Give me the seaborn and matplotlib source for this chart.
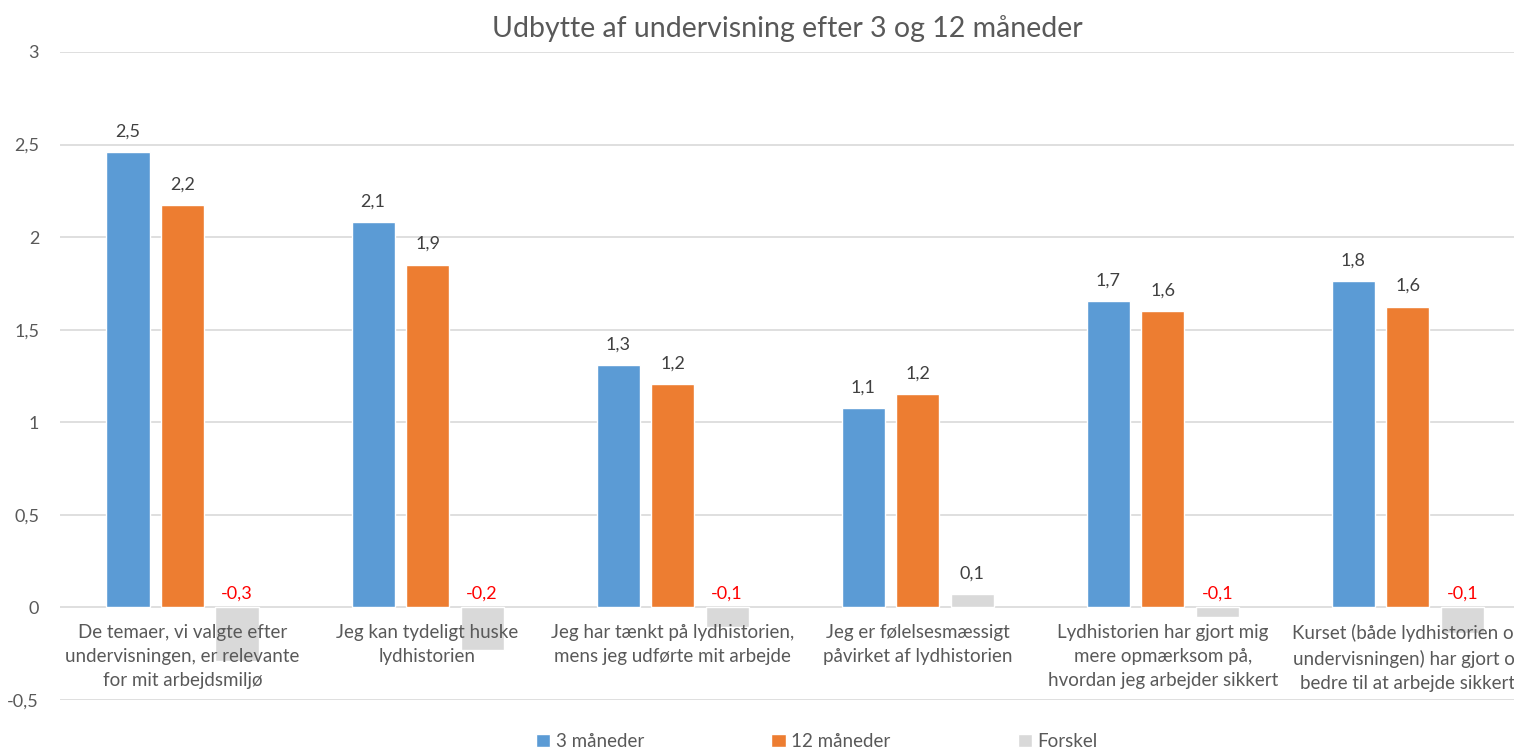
import matplotlib
matplotlib.use("Agg")
import matplotlib.pyplot as plt
import seaborn as sns
import pandas as pd

categories = [
    "De temaer, vi valgte efter\nundervisningen, er relevante\nfor mit arbejdsmiljø",
    "Jeg kan tydeligt huske\nlydhistorien",
    "Jeg har tænkt på lydhistorien,\nmens jeg udførte mit arbejde",
    "Jeg er følelsesmæssigt\npåvirket af lydhistorien",
    "Lydhistorien har gjort mig\nmere opmærksom på,\nhvordan jeg arbejder sikkert",
    "Kurset (både lydhistorien og\nundervisningen) har gjort os\nbedre til at arbejde sikkert",
]
series_names = ["3 måneder", "12 måneder", "Forskel"]
m3 = [2.46, 2.08, 1.31, 1.075, 1.654, 1.765]
m12 = [2.175, 1.852, 1.205, 1.152, 1.60, 1.625]
forskel = [-0.29, -0.232, -0.105, 0.072, -0.054, -0.14]
yticks = [-0.5, 0, 0.5, 1, 1.5, 2, 2.5, 3]
colors = ["#5B9BD5", "#ED7D31", "#D9D9D9"]

sns.set_theme(style="white")
plt.rcParams["font.family"] = ["Lato", "DejaVu Sans"]

rows = []
for vals, name in zip([m3, m12, forskel], series_names):
    for c, v in zip(categories, vals):
        rows.append({"kategori": c, "serie": name, "værdi": v})
df = pd.DataFrame(rows)

fig = plt.figure(figsize=(15.14, 7.52), dpi=100)
ax = fig.add_axes([0.0396, 0.0691, 0.9604, 0.8618])

sns.barplot(data=df, x="kategori", y="værdi", hue="serie", order=categories,
            hue_order=series_names, palette=colors, width=0.667, gap=0.21,
            saturation=1, ax=ax, legend=True, zorder=2)

ax.set_ylim(-0.5, 3)
ax.set_xlim(-0.5, 5.433)
ax.set_yticks(yticks)
ax.set_yticklabels([("%g" % t).replace(".", ",") for t in yticks],
                   color="#595959", fontsize=13)
ax.yaxis.grid(True, color="#D9D9D9", linewidth=1.2, zorder=0)
ax.set_axisbelow(True)
for s in ["left", "right", "top"]:
    ax.spines[s].set_visible(False)
ax.spines["bottom"].set_position(("data", 0))
ax.spines["bottom"].set_visible(False)
ax.tick_params(axis="x", length=0, pad=12)
ax.tick_params(axis="y", length=0, pad=15)
ax.set_xticks(range(len(categories)))
ax.set_xticklabels(categories, color="#595959", fontsize=13.5, linespacing=1.5)
ax.xaxis.set_zorder(5)
ax.set_xlabel("")
ax.set_ylabel("")

for cont in ax.containers:
    for bar in cont:
        h = bar.get_height()
        xc = bar.get_x() + bar.get_width() / 2
        txt = ("%.1f" % h).replace(".", ",")
        if h >= 0:
            ax.annotate(txt, (xc, h), xytext=(0, 9), textcoords="offset points",
                        ha="center", va="bottom", fontsize=13, color="#404040")
        else:
            ax.annotate(txt, (xc, 0), xytext=(0, 4), textcoords="offset points",
                        ha="center", va="bottom", fontsize=13, color="#FF0000")

ax.set_title("Udbytte af undervisning efter 3 og 12 måneder", fontsize=20.5,
             color="#595959", pad=11, x=0.5)

leg = ax.legend(loc="center", bbox_to_anchor=(0.5206, -0.064), ncol=3, frameon=False,
                handlelength=0.75, handleheight=0.75, handletextpad=0.3,
                columnspacing=6.8, fontsize=13.5)
for t in leg.get_texts():
    t.set_color("#595959")

fig.savefig("out.png", dpi=100)
